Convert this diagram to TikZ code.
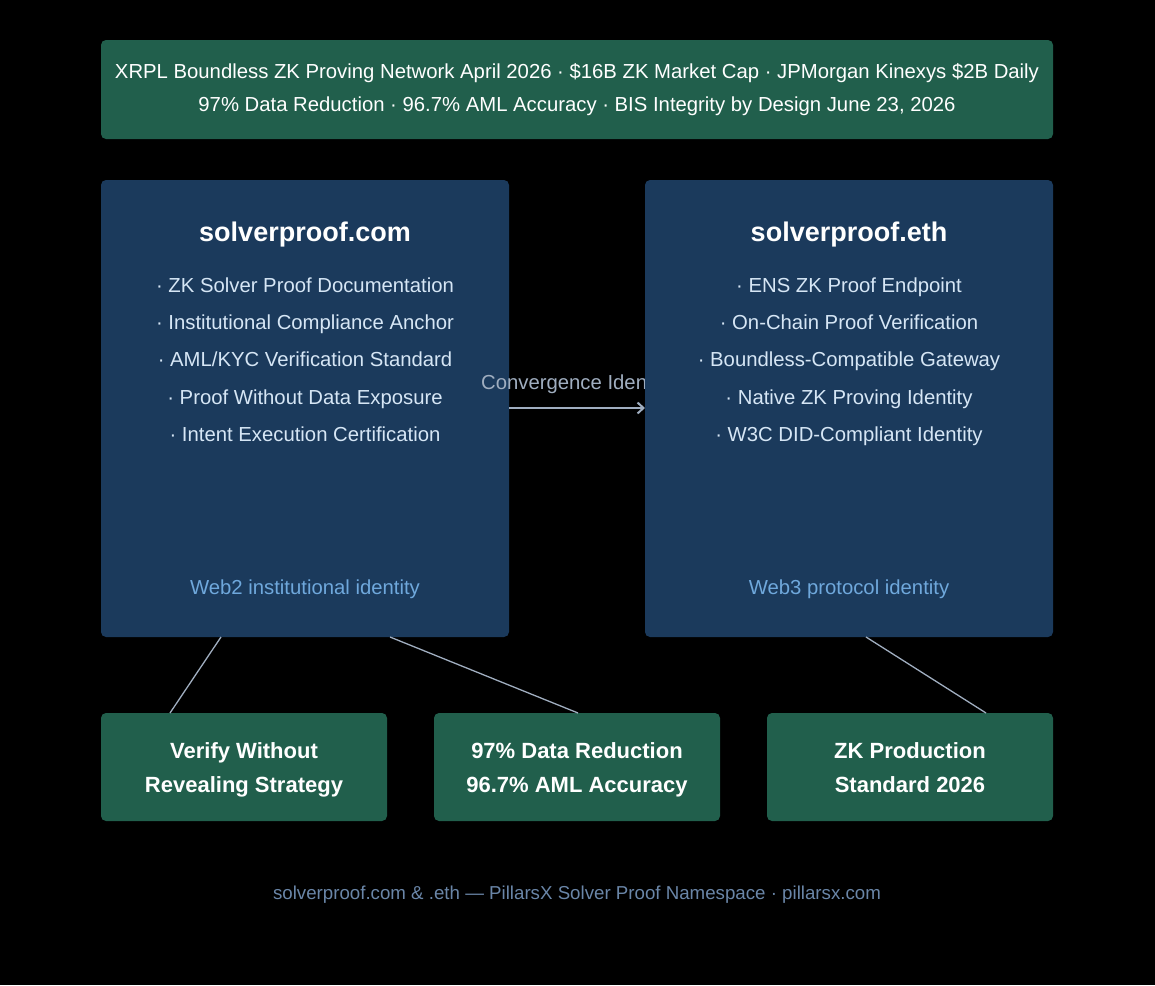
\documentclass[tikz,border=0pt]{standalone}
\usepackage{fontspec}
\setmainfont{Liberation Sans}
\usetikzlibrary{arrows.meta}
\definecolor{bannergreen}{HTML}{215F4C}
\definecolor{boxblue}{HTML}{1B3A5C}
\definecolor{itemtxt}{HTML}{D6E6F5}
\definecolor{subtxt}{HTML}{6FA8DC}
\definecolor{linkc}{HTML}{A0AEC0}
\definecolor{foot}{HTML}{6A86A8}
\begin{document}
\begin{tikzpicture}[x=1pt,y=-1pt,
  greenbox/.style={fill=bannergreen,rounded corners=5pt,draw=none},
  bluebox/.style={fill=boxblue,rounded corners=5pt,draw=none},
  bannertxt/.style={text=white,anchor=base,inner sep=0pt,font=\fontsize{20.3}{24}\selectfont},
  titletxt/.style={text=white,anchor=base,inner sep=0pt,font=\bfseries\fontsize{27}{32}\selectfont},
  itemstyle/.style={text=itemtxt,anchor=base,inner sep=0pt,font=\fontsize{20.3}{24}\selectfont},
  subtitle/.style={text=subtxt,anchor=base,inner sep=0pt,font=\fontsize{20.3}{24}\selectfont},
  bottxt/.style={text=white,anchor=base,inner sep=0pt,font=\bfseries\fontsize{22}{26}\selectfont},
  link/.style={draw=linkc,line width=1.3pt},
]
\useasboundingbox (0,0) rectangle (1155,985);
\fill[black] (0,0) rectangle (1155,985);
% banner
\fill[greenbox] (101,40) rectangle (1053,139);
\node[bannertxt] (b1) at (577,78.3) {XRPL Boundless ZK Proving Network April 2026 · \$16B ZK Market Cap · JPMorgan Kinexys \$2B Daily};
\node[bannertxt] (b2) at (577,111.3) {97\% Data Reduction · 96.7\% AML Accuracy · BIS Integrity by Design June 23, 2026};
% left box
\fill[bluebox] (101,180) rectangle (509,637);
\coordinate (L) at (509,408);
\node[titletxt] (lt) at (305,241.7) {solverproof.com};
\node[itemstyle] (l1) at (305,292.3) {· ZK Solver Proof Documentation};
\node[itemstyle] (l2) at (305,329.3) {· Institutional Compliance Anchor};
\node[itemstyle] (l3) at (305,366.3) {· AML/KYC Verification Standard};
\node[itemstyle] (l4) at (305,404.3) {· Proof Without Data Exposure};
\node[itemstyle] (l5) at (305,441.3) {· Intent Execution Certification};
\node[subtitle] (ls) at (305,594.3) {Web2 institutional identity};
% arrow + label
\coordinate (R) at (645,408);
\draw[draw=linkc,line width=2pt,-{Straight Barb[length=6pt,width=11pt,line width=2pt]}] (L) -- (R);
\node[text=linkc,font=\fontsize{20.3}{24}\selectfont,anchor=base west,inner sep=0pt] (conv) at (481,389.3) {Convergence Identity};
% right box
\fill[bluebox] (645,180) rectangle (1053,637);
\node[titletxt] (rt) at (849,241.7) {solverproof.eth};
\node[itemstyle] (r1) at (849,292.3) {· ENS ZK Proof Endpoint};
\node[itemstyle] (r2) at (849,329.3) {· On-Chain Proof Verification};
\node[itemstyle] (r3) at (849,366.3) {· Boundless-Compatible Gateway};
\node[itemstyle] (r4) at (849,404.3) {· Native ZK Proving Identity};
\node[itemstyle] (r5) at (849,441.3) {· W3C DID-Compliant Identity};
\node[subtitle] (rs) at (849,594.3) {Web3 protocol identity};
% bottom boxes
\fill[greenbox] (101,713) rectangle (387,821);
\fill[greenbox] (434,713) rectangle (720,821);
\fill[greenbox] (767,713) rectangle (1053,821);
\node[bottxt] (k1a) at (244,758) {Verify Without};
\node[bottxt] (k1b) at (244,792) {Revealing Strategy};
\node[bottxt] (k2a) at (577,758) {97\% Data Reduction};
\node[bottxt] (k2b) at (577,792) {96.7\% AML Accuracy};
\node[bottxt] (k3a) at (910,758) {ZK Production};
\node[bottxt] (k3b) at (910,792) {Standard 2026};
% links
\coordinate (a1) at (221,637); \coordinate (a2) at (170,713);
\coordinate (c1) at (390,637); \coordinate (c2) at (578,713);
\coordinate (e1) at (866,637); \coordinate (e2) at (986,713);
\draw[link] (a1) -- (a2);
\draw[link] (c1) -- (c2);
\draw[link] (e1) -- (e2);
% footer
\node[text=foot,anchor=base,inner sep=0pt,font=\fontsize{18.7}{22}\selectfont] (ft) at (577,899.7) {solverproof.com \& .eth — PillarsX Solver Proof Namespace · pillarsx.com};
\end{tikzpicture}
\end{document}
